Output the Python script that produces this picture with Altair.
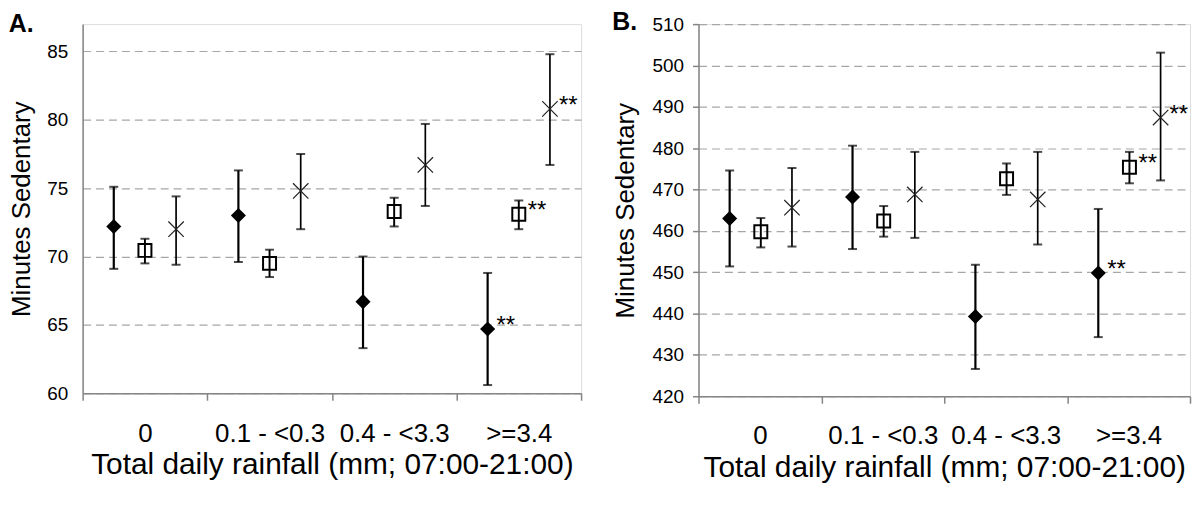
import altair as alt
import pandas as pd

FONT = "Liberation Sans"
GRAY = "#858585"
X_PATH = "M-1,-1L1,1M-1,1L1,-1"
DIAMOND_PATH = "M-1,0L0,-1L1,0L0,1Z"

categories = ["0", "0.1 - <0.3", "0.4 - <3.3", ">=3.4"]
series = ["Diamond", "Square", "Cross"]

# Panel A values
a_diamond_mean = [72.2, 73.0, 66.7, 64.7]
a_diamond_lo = [69.1, 69.6, 63.3, 60.6]
a_diamond_hi = [75.1, 76.3, 70.0, 68.8]
a_square_mean = [70.45, 69.5, 73.3, 73.1]
a_square_lo = [69.5, 68.5, 72.2, 72.0]
a_square_hi = [71.3, 70.5, 74.3, 74.1]
a_cross_mean = [72.0, 74.8, 76.7, 80.8]
a_cross_lo = [69.4, 72.0, 73.7, 76.7]
a_cross_hi = [74.4, 77.5, 79.7, 84.8]

# Panel B values
b_diamond_mean = [463.0, 468.2, 439.3, 449.8]
b_diamond_lo = [451.4, 455.6, 426.6, 434.3]
b_diamond_hi = [474.6, 480.6, 451.8, 465.3]
b_square_mean = [459.8, 462.4, 472.6, 475.4]
b_square_lo = [456.0, 458.6, 468.7, 471.5]
b_square_hi = [463.1, 466.0, 476.3, 479.1]
b_cross_mean = [465.6, 468.8, 467.6, 487.4]
b_cross_lo = [456.2, 458.3, 456.7, 472.2]
b_cross_hi = [475.2, 479.1, 479.1, 503.1]

# significance markers
diamond_sig = ["", "", "", "**"]
square_sig = ["", "", "", "**"]
cross_sig = ["", "", "", "**"]

a_y_ticks = [60, 65, 70, 75, 80, 85]
b_y_ticks = [420, 430, 440, 450, 460, 470, 480, 490, 500, 510]


def frame(means, los, his, sigs):
    rows = []
    for s, m, lo, hi, sg in zip(series, means, los, his, sigs):
        for c, mv, lv, hv, gv in zip(categories, m, lo, hi, sg):
            rows.append(dict(category=c, series=s, mean=mv, lo=lv, hi=hv, sig=gv))
    return pd.DataFrame(rows)


sigs = [diamond_sig, square_sig, cross_sig]
df_a = frame([a_diamond_mean, a_square_mean, a_cross_mean],
             [a_diamond_lo, a_square_lo, a_cross_lo],
             [a_diamond_hi, a_square_hi, a_cross_hi], sigs)
df_b = frame([b_diamond_mean, b_square_mean, b_cross_mean],
             [b_diamond_lo, b_square_lo, b_cross_lo],
             [b_diamond_hi, b_square_hi, b_cross_hi], sigs)


def panel(df, label, y_domain, y_ticks, w, h, y_tick_size, y_label_pad, y_title_pad, title_offset):
    x_enc = alt.X(
        "category:N",
        sort=categories,
        scale=alt.Scale(domain=categories, paddingInner=0, paddingOuter=0),
        axis=alt.Axis(
            title="Total daily rainfall (mm; 07:00-21:00)",
            labelAngle=0, tickBand="extent", tickSize=7, tickColor=GRAY,
            tickWidth=1.5, domainColor=GRAY, domainWidth=1.5,
            labelFontSize=26, labelPadding=20, labelColor="black", labelFont=FONT,
            titleFontSize=30, titlePadding=4, titleFontWeight="normal",
            titleColor="black", titleFont=FONT, grid=False,
        ),
    )
    xo = alt.XOffset("series:N",
                     scale=alt.Scale(domain=series, paddingInner=0, paddingOuter=0.5))
    y_scale = alt.Scale(domain=y_domain, nice=False, zero=False)
    y_axis = alt.Axis(
        values=y_ticks, title="Minutes Sedentary",
        tickSize=y_tick_size, tickColor=GRAY, tickWidth=1.5,
        domainColor=GRAY, domainWidth=1.5,
        labelFontSize=19, labelPadding=y_label_pad, labelColor="black", labelFont=FONT,
        titleFontSize=26, titlePadding=y_title_pad, titleFontWeight="normal",
        titleColor="black", titleFont=FONT,
        grid=True, gridDash=[8, 5], gridColor="#a6a6a6", gridWidth=1.2,
    )
    base = alt.Chart(df)
    rules = base.mark_rule(color="black").encode(
        x=x_enc, xOffset=xo,
        y=alt.Y("lo:Q", scale=y_scale, axis=y_axis),
        y2="hi:Q",
        strokeWidth=alt.StrokeWidth("series:N",
                                    scale=alt.Scale(domain=series, range=[2.2, 1.7, 1.7]),
                                    legend=None),
    )
    caps_lo = base.mark_tick(color="black", size=9, thickness=2).encode(
        x=x_enc, xOffset=xo, y=alt.Y("lo:Q", scale=y_scale))
    caps_hi = base.mark_tick(color="black", size=9, thickness=2).encode(
        x=x_enc, xOffset=xo, y=alt.Y("hi:Q", scale=y_scale))
    diamonds = base.transform_filter(alt.datum.series == "Diamond").mark_point(
        shape=DIAMOND_PATH, filled=True, color="black", size=230, opacity=1
    ).encode(x=x_enc, xOffset=xo, y=alt.Y("mean:Q", scale=y_scale))
    squares = base.transform_filter(alt.datum.series == "Square").mark_point(
        shape="square", filled=False, color="black", strokeWidth=2, size=170, opacity=1
    ).encode(x=x_enc, xOffset=xo, y=alt.Y("mean:Q", scale=y_scale))
    crosses = base.transform_filter(alt.datum.series == "Cross").mark_point(
        shape=X_PATH, filled=False, color="#222222", strokeWidth=1.2, size=240, opacity=1
    ).encode(x=x_enc, xOffset=xo, y=alt.Y("mean:Q", scale=y_scale))
    stars = base.transform_filter(alt.datum.sig != "").mark_text(
        align="left", baseline="middle", dx=9, dy=-3, fontSize=24, font=FONT, color="black"
    ).encode(x=x_enc, xOffset=xo, y=alt.Y("mean:Q", scale=y_scale), text="sig:N")
    return alt.layer(rules, caps_lo, caps_hi, diamonds, squares, crosses, stars).properties(
        width=w, height=h,
        title=alt.TitleParams(label, anchor="start", frame="bounds", fontSize=25,
                              fontWeight="bold", font=FONT, color="black", offset=title_offset),
    )


pa = panel(df_a, "A.", [60, 87], a_y_ticks, 501, 371, 0, 15, 12, -13)
pb = panel(df_b, "B.", [420, 510], b_y_ticks, 494, 374, 6, 9, 14, -20)

chart = alt.hconcat(pa, pb, spacing=28).properties(
    padding={"left": 0, "top": 0, "right": 0, "bottom": 0}
).configure_view(stroke="#8c8c8c", strokeWidth=1.5).configure(background="white")

chart.save("out.html", embed_options={"renderer": "svg", "actions": False})
